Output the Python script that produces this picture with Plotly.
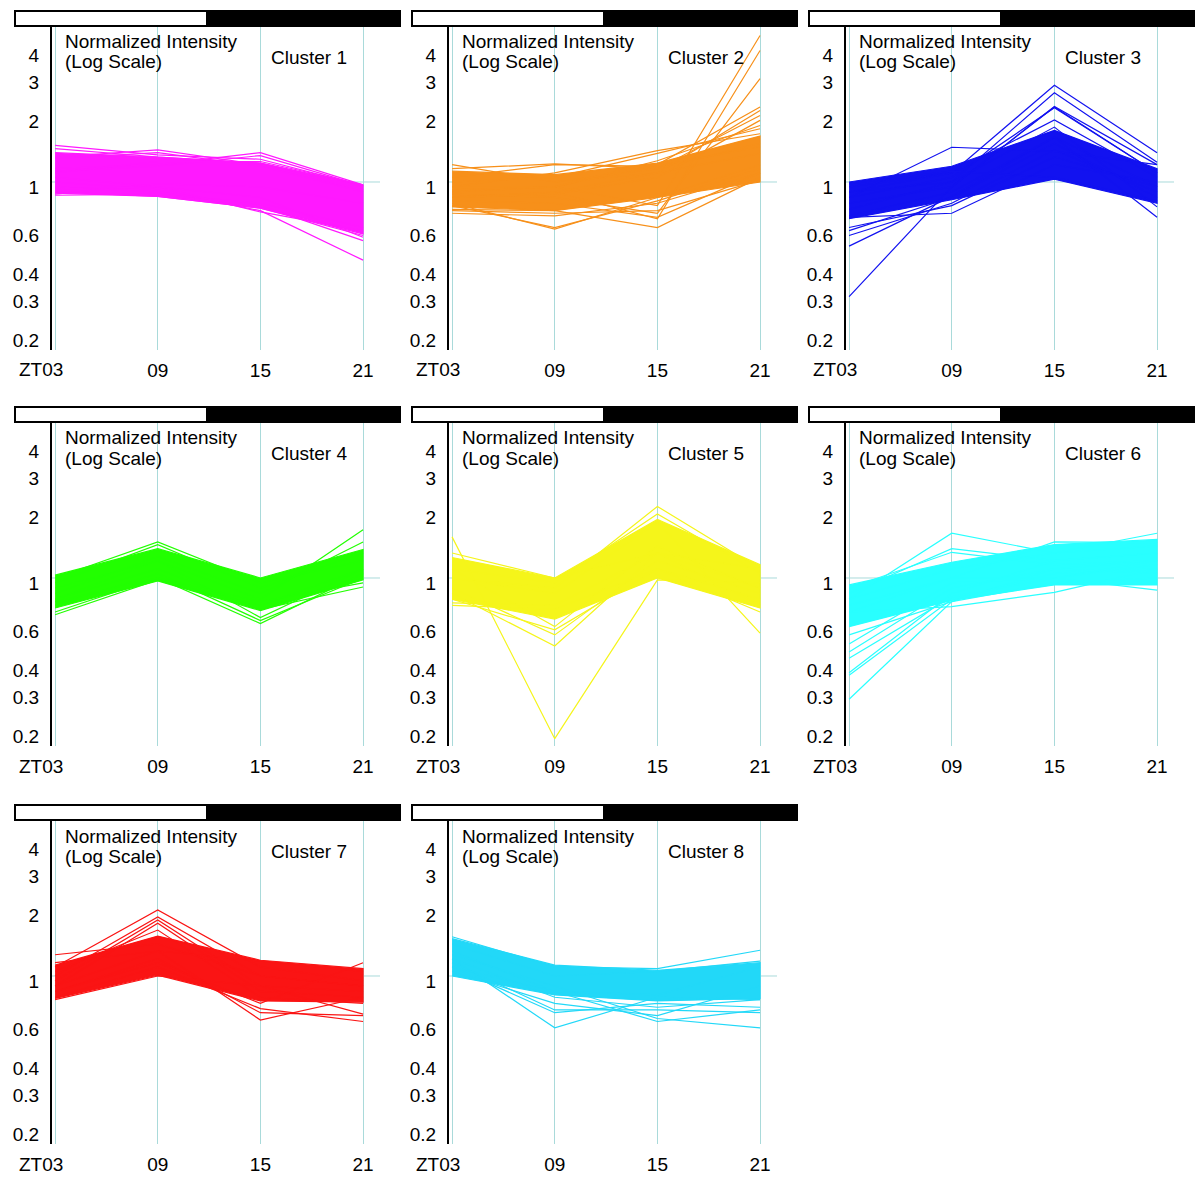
import plotly.graph_objects as go

# ---------------- data ----------------
TIMEPOINTS = [0, 1, 2, 3]
X_TICK_TEXT = ["", "09", "15", "21"]
FIRST_X_LABEL = "ZT03"
Y_TICKS = [0.2, 0.3, 0.4, 0.6, 1, 2, 3, 4]
Y_TICK_TEXT = ["0.2", "0.3", "0.4", "0.6", "1", "2", "3", "4"]
CLUSTER_NAMES = ["Cluster 1", "Cluster 2", "Cluster 3", "Cluster 4",
                 "Cluster 5", "Cluster 6", "Cluster 7", "Cluster 8"]
COLORS = ["#ff19ff", "#f7901a", "#1212f0", "#22ff00",
          "#f5f51a", "#29ffff", "#fa1414", "#22d8f8"]

# dense core band of each cluster (upper / lower envelope at ZT03, 09, 15, 21)
C1_UPPER = [1.36, 1.30, 1.22, 0.97]
C1_LOWER = [0.89, 0.86, 0.76, 0.58]
C2_UPPER = [1.12, 1.08, 1.22, 1.62]
C2_LOWER = [0.77, 0.74, 0.85, 1.00]
C3_UPPER = [1.00, 1.18, 1.72, 1.15]
C3_LOWER = [0.68, 0.83, 1.03, 0.80]
C4_UPPER = [1.03, 1.36, 1.00, 1.35]
C4_LOWER = [0.73, 0.97, 0.71, 0.98]
C5_UPPER = [1.24, 1.00, 1.85, 1.15]
C5_LOWER = [0.80, 0.65, 1.00, 0.73]
C6_UPPER = [0.93, 1.18, 1.42, 1.50]
C6_LOWER = [0.60, 0.79, 0.93, 0.93]
C7_UPPER = [1.12, 1.52, 1.18, 1.08]
C7_LOWER = [0.79, 1.01, 0.77, 0.76]
C8_UPPER = [1.48, 1.12, 1.06, 1.15]
C8_LOWER = [1.00, 0.82, 0.77, 0.79]

# individual gene profiles (ZT03, 09, 15, 21)
C1_LINES = [
    [1.47, 1.33, 1.27, 0.96], [1.42, 1.30, 1.22, 0.95], [1.30, 1.40, 1.20, 0.92],
    [1.28, 1.36, 1.18, 0.90], [1.15, 1.20, 1.36, 0.97], [1.12, 1.18, 1.32, 0.96],
    [1.10, 1.24, 1.24, 0.97], [0.88, 0.98, 0.95, 0.80], [0.87, 0.88, 0.80, 0.62],
    [0.90, 0.86, 0.76, 0.57], [1.00, 0.92, 0.74, 0.44], [0.95, 0.90, 0.78, 0.54],
    [0.93, 0.95, 0.73, 0.60], [1.05, 0.95, 0.85, 0.56],
]
C2_LINES = [
    [1.20, 1.00, 1.10, 1.35], [1.15, 1.21, 1.15, 1.50], [1.05, 1.20, 1.18, 1.45],
    [0.95, 1.10, 1.39, 1.66], [1.00, 1.05, 1.35, 1.75], [0.90, 0.95, 0.78, 4.66],
    [0.85, 0.90, 0.68, 3.98], [0.88, 0.85, 0.72, 2.96], [0.95, 0.95, 1.20, 2.20],
    [0.90, 0.90, 1.10, 2.12], [1.00, 1.00, 1.15, 2.01], [0.85, 0.88, 1.05, 1.91],
    [0.92, 0.95, 1.25, 1.81], [0.80, 0.61, 0.85, 1.20], [0.78, 0.62, 0.82, 1.15],
    [0.72, 0.70, 0.80, 1.10], [0.75, 0.74, 0.62, 1.05], [0.82, 0.80, 0.69, 1.10],
    [0.74, 0.72, 0.74, 1.02],
]
C3_LINES = [
    [0.30, 0.95, 2.20, 1.10], [0.51, 0.86, 1.60, 0.95], [0.57, 0.80, 1.40, 0.90],
    [0.60, 0.85, 1.50, 0.85], [0.62, 0.78, 1.30, 0.95], [0.85, 1.44, 1.38, 1.20],
    [0.69, 0.72, 1.20, 1.00], [0.95, 1.10, 2.76, 1.36], [0.90, 1.00, 2.55, 1.23],
    [0.80, 0.95, 2.21, 1.20], [0.85, 1.05, 2.18, 1.10], [0.90, 1.10, 1.92, 1.05],
    [0.75, 1.00, 1.78, 0.77], [0.70, 0.90, 1.60, 0.69], [0.98, 1.12, 1.05, 0.82],
]
C4_LINES = [
    [1.00, 1.46, 0.95, 1.20], [0.95, 1.42, 0.90, 1.30], [0.68, 0.98, 0.75, 1.10],
    [0.70, 1.00, 0.62, 1.05], [0.75, 1.05, 0.64, 1.00], [0.80, 1.20, 0.66, 1.10],
    [0.90, 1.20, 0.80, 1.66], [0.85, 1.25, 0.85, 1.46], [0.80, 1.10, 0.72, 0.91],
    [0.78, 1.00, 0.78, 0.95],
]
C5_LINES = [
    [1.54, 0.185, 0.98, 0.95], [0.85, 0.49, 1.30, 0.90], [0.90, 0.55, 1.20, 0.85],
    [0.80, 0.58, 1.10, 0.80], [1.10, 0.60, 1.40, 0.90], [1.00, 0.90, 2.12, 1.10],
    [1.10, 0.95, 1.96, 1.05], [1.00, 0.85, 1.80, 0.56], [0.75, 0.72, 1.10, 0.70],
    [0.77, 0.75, 1.30, 0.75], [1.30, 1.00, 1.30, 1.10],
]
C6_LINES = [
    [0.28, 0.78, 1.10, 1.20], [0.36, 0.80, 1.05, 1.10], [0.37, 0.85, 1.20, 1.30],
    [0.43, 0.82, 1.00, 1.20], [0.46, 0.90, 1.10, 1.05], [0.50, 0.95, 1.00, 1.15],
    [0.55, 0.78, 0.95, 1.00], [0.80, 1.60, 1.30, 1.40], [0.85, 1.36, 1.20, 1.30],
    [0.90, 1.31, 1.15, 1.20], [0.70, 0.74, 0.86, 1.10], [0.75, 1.00, 1.46, 1.45],
    [0.80, 1.10, 1.30, 1.60], [0.70, 1.00, 1.00, 0.88],
]
C7_LINES = [
    [1.10, 2.00, 1.10, 0.95], [1.00, 1.86, 1.00, 0.90], [0.95, 1.80, 0.90, 0.85],
    [0.90, 1.74, 0.85, 0.80], [1.05, 1.62, 0.80, 0.75], [1.25, 1.40, 1.00, 0.90],
    [1.15, 1.30, 1.17, 1.05], [0.90, 1.30, 0.63, 0.80], [0.85, 1.20, 0.68, 0.66],
    [0.80, 1.10, 0.71, 0.62], [0.85, 1.15, 0.75, 1.15], [0.78, 1.00, 0.90, 0.67],
]
C8_LINES = [
    [1.51, 1.10, 1.08, 1.31], [1.40, 1.00, 1.05, 1.17], [1.20, 0.58, 0.80, 0.78],
    [1.10, 0.68, 0.75, 0.72], [1.15, 0.70, 0.70, 0.68], [1.30, 0.85, 0.62, 0.70],
    [1.25, 0.90, 0.64, 0.58], [1.05, 0.75, 0.66, 0.90], [1.10, 0.85, 0.82, 1.10],
    [1.20, 0.80, 0.72, 0.78],
]

BANDS = [(C1_UPPER, C1_LOWER), (C2_UPPER, C2_LOWER), (C3_UPPER, C3_LOWER),
         (C4_UPPER, C4_LOWER), (C5_UPPER, C5_LOWER), (C6_UPPER, C6_LOWER),
         (C7_UPPER, C7_LOWER), (C8_UPPER, C8_LOWER)]
LINES = [C1_LINES, C2_LINES, C3_LINES, C4_LINES, C5_LINES, C6_LINES, C7_LINES, C8_LINES]

# ---------------- layout geometry (pixels) ----------------
W, H = 1200, 1185
COL_AXIS_X = [52, 449, 846]
ROW_TOP_Y = [26, 422, 820]
PLOT_W = 328
PLOT_H = 324
GRID_COLOR = "#a9dada"
FONT = "Liberation Sans, Arial, Helvetica, sans-serif"
FS = 19


def px(x):
    return x / W


def py(y):
    return 1 - y / H


fig = go.Figure()
layout = dict(width=W, height=H, margin=dict(l=0, r=0, t=0, b=0),
              paper_bgcolor="white", plot_bgcolor="white", showlegend=False,
              font=dict(family=FONT, size=FS, color="black"))
shapes = []
annotations = []

for i in range(8):
    row, col = divmod(i, 3)
    ax_x = COL_AXIS_X[col]
    top = ROW_TOP_Y[row]
    n = i + 1
    xa = "x" if n == 1 else f"x{n}"
    ya = "y" if n == 1 else f"y{n}"
    color = COLORS[i]

    upper, lower = BANDS[i]
    fig.add_trace(go.Scatter(
        x=TIMEPOINTS + TIMEPOINTS[::-1], y=upper + lower[::-1],
        fill="toself", fillcolor=color, mode="lines",
        line=dict(color=color, width=1.2), xaxis=xa, yaxis=ya, hoverinfo="skip"))
    for prof in LINES[i]:
        fig.add_trace(go.Scatter(
            x=TIMEPOINTS, y=prof, mode="lines",
            line=dict(color=color, width=1.2), xaxis=xa, yaxis=ya))

    xkey = "xaxis" if n == 1 else f"xaxis{n}"
    ykey = "yaxis" if n == 1 else f"yaxis{n}"
    layout[xkey] = dict(
        domain=[px(ax_x), px(ax_x + PLOT_W)], anchor=ya,
        range=[-0.03, 3.165], tickvals=TIMEPOINTS, ticktext=X_TICK_TEXT,
        showgrid=True, gridcolor=GRID_COLOR, gridwidth=1, zeroline=False,
        showline=False, ticks="", ticklabelstandoff=7,
        tickfont=dict(family=FONT, size=FS, color="black"))
    layout[ykey] = dict(
        domain=[py(top + PLOT_H), py(top)], anchor=xa, type="log",
        range=[-0.7663, 0.7115], tickvals=Y_TICKS, ticktext=Y_TICK_TEXT,
        showgrid=False, zeroline=False, showline=True, linecolor="black",
        linewidth=2, ticks="", ticklabelstandoff=7, ticklabelshift=5,
        tickfont=dict(family=FONT, size=FS, color="black"))

    # horizontal reference line at 1
    shapes.append(dict(type="line", xref=f"{xa} domain", yref=ya,
                       x0=0, x1=1, y0=1, y1=1,
                       line=dict(color=GRID_COLOR, width=1), layer="below"))

    # light / dark bar
    bar_l, bar_m, bar_r = ax_x - 37, ax_x + 155, ax_x + 348
    bar_t, bar_b = top - 15, top
    shapes.append(dict(type="rect", xref="paper", yref="paper",
                       x0=px(bar_l), x1=px(bar_m), y0=py(bar_b), y1=py(bar_t),
                       fillcolor="white", line=dict(color="black", width=2)))
    shapes.append(dict(type="rect", xref="paper", yref="paper",
                       x0=px(bar_m), x1=px(bar_r), y0=py(bar_b), y1=py(bar_t),
                       fillcolor="black", line=dict(color="black", width=2)))

    annotations.append(dict(text="Normalized Intensity", xref="paper", yref="paper",
                            x=px(ax_x + 11), y=py(top + 16), xanchor="left",
                            yanchor="middle", showarrow=False,
                            font=dict(family=FONT, size=FS)))
    annotations.append(dict(text="(Log Scale)", xref="paper", yref="paper",
                            x=px(ax_x + 11), y=py(top + 36), xanchor="left",
                            yanchor="middle", showarrow=False,
                            font=dict(family=FONT, size=FS)))
    annotations.append(dict(text=CLUSTER_NAMES[i], xref="paper", yref="paper",
                            x=px(ax_x + 217), y=py(top + 31), xanchor="left",
                            yanchor="middle", showarrow=False,
                            font=dict(family=FONT, size=FS)))
    annotations.append(dict(text=FIRST_X_LABEL, xref=xa, yref="paper",
                            x=TIMEPOINTS[0], y=py(top + PLOT_H + 20),
                            xanchor="center", xshift=-14,
                            yanchor="middle", showarrow=False,
                            font=dict(family=FONT, size=FS)))

layout["shapes"] = shapes
layout["annotations"] = annotations
fig.update_layout(**layout)
fig.write_html("out.html", config={"displayModeBar": False},
               post_script="document.body.style.margin='0';document.body.style.overflow='hidden';")
